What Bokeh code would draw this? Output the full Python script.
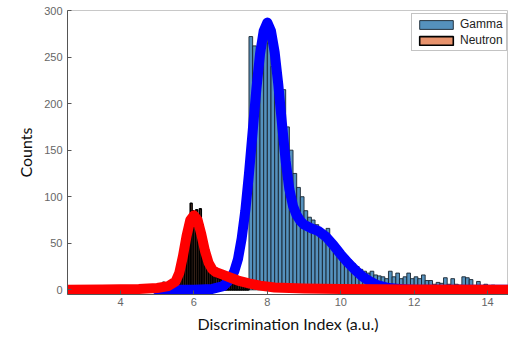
import numpy as np
from bokeh.plotting import figure
from bokeh.models import Legend, LegendItem, FixedTicker
from bokeh.embed import file_html
from bokeh.resources import INLINE

# ---- data ----
gamma_start = 7.5
gamma_width = 0.1
gamma_counts = [272, 262, 240, 258, 270, 265, 240, 225, 218, 215,
                175, 150, 125, 110, 100, 85, 78, 75, 70, 62,
                60, 66, 55, 50, 45, 40, 35, 32, 28, 25,
                22, 20, 18, 20, 16, 15, 14, 12, 20, 14,
                18, 12, 14, 18, 12, 14, 12, 16, 10, 10,
                6, 8, 7, 13, 6, 12, 6, 5, 14, 13,
                11, 4, 9, 3, 6, 3, 5, 3, 2, 4,
                3, 2, 3, 2, 1]

neutron_start = 5.0
neutron_width = 0.05
neutron_counts = [2, 3, 5, 8, 6, 7, 4, 3,
                  5, 6, 8, 10, 15, 22, 32, 45, 60, 75,
                  93, 85, 82, 86, 80, 87, 70, 55, 42, 33,
                  26, 21, 18, 15, 13, 12, 11, 10, 12, 10,
                  11, 14, 18, 12, 10, 9, 8, 7, 6, 5,
                  5, 4]

gamma_fit_x = [5.0, 6.0, 6.5, 6.8, 7.0, 7.1, 7.2, 7.3, 7.4, 7.5, 7.6, 7.7, 7.8, 7.9,
               8.0, 8.1, 8.2, 8.3, 8.4, 8.5, 8.6, 8.7, 8.8, 8.9, 9.0, 9.2, 9.4,
               9.6, 9.8, 10.0, 10.2, 10.4, 10.6, 10.8, 11.0, 11.3, 11.6, 12.0,
               13.0, 14.0, 15.0]
gamma_fit_y = [0, 0, 1, 4, 12, 20, 33, 55, 85, 125, 170, 215, 253, 278,
               287, 278, 255, 220, 178, 138, 108, 90, 80, 74, 70, 66, 63,
               57, 48, 38, 29, 21, 14, 9, 5, 2, 1, 0,
               0, 0, 0]

neutron_fit_x = [2.5, 3.5, 4.5, 5.0, 5.3, 5.5, 5.6, 5.7, 5.8, 5.9, 6.0, 6.1, 6.2,
                 6.3, 6.4, 6.5, 6.6, 6.8, 7.0, 7.2, 7.5, 7.8, 8.2, 9.0, 10.0,
                 12.0, 15.0]
neutron_fit_y = [0, 0.5, 1, 2, 4, 9, 18, 36, 58, 75, 80, 75, 60,
                 42, 29, 22, 19, 16, 13, 10, 7, 4.5, 2.5, 1.5, 1,
                 0.5, 0]

x_ticks = [4, 6, 8, 10, 12, 14]
y_ticks = [0, 50, 100, 150, 200, 250, 300]

# ---- figure ----
p = figure(width=508, height=335, x_range=(2.556, 14.57), y_range=(-5, 300),
           output_backend="svg", toolbar_location=None,
           min_border_left=67, min_border_right=0, min_border_top=10,
           min_border_bottom=35)
p.grid.visible = False
p.background_fill_color = "white"
p.border_fill_color = "white"
p.outline_line_color = "#c8c8c8"
p.outline_line_width = 1

gx = gamma_start + gamma_width * (np.arange(len(gamma_counts)) + 0.5)
nx = neutron_start + neutron_width * (np.arange(len(neutron_counts)) + 0.5)

g = p.vbar(x=gx, top=gamma_counts, bottom=0, width=gamma_width,
           fill_color="#5591bd", line_color="#17242f", line_width=0.9)
n = p.vbar(x=nx, top=neutron_counts, bottom=0, width=neutron_width,
           fill_color="#e8936d", line_color="#000000", line_width=1.6)

p.line(gamma_fit_x, gamma_fit_y, line_color="#0000ff", line_width=10,
       line_join="round", line_cap="round")
p.line(neutron_fit_x, neutron_fit_y, line_color="#ff0000", line_width=10,
       line_join="round", line_cap="round")

legend = Legend(items=[LegendItem(label="Gamma", renderers=[g]),
                       LegendItem(label="Neutron", renderers=[n])],
                location=(344, 243))
legend.label_text_font = "Liberation Sans"
legend.label_text_font_size = "12px"
legend.label_text_color = "#222222"
legend.glyph_width = 42
legend.glyph_height = 11
legend.label_height = 12
legend.label_standoff = 3
legend.padding = 3
legend.spacing = 2
legend.margin = 0
legend.border_line_color = "#888888"
legend.border_line_width = 1
legend.background_fill_color = "white"
p.add_layout(legend, "center")

for ax in (p.xaxis[0], p.yaxis[0]):
    ax.axis_line_color = "#555555"
    ax.major_tick_line_color = "#555555"
    ax.major_tick_in = 4
    ax.major_tick_out = 0
    ax.minor_tick_line_color = None
    ax.major_label_text_font = "Liberation Sans"
    ax.major_label_text_font_size = "11px"
    ax.major_label_text_color = "#666666"
    ax.axis_label_text_font = "Lato"
    ax.axis_label_text_font_size = "16px"
    ax.axis_label_text_font_style = "normal"
    ax.axis_label_text_color = "#111111"

p.xaxis.ticker = FixedTicker(ticks=x_ticks)
p.yaxis.ticker = FixedTicker(ticks=y_ticks)
p.xaxis.axis_label = "Discrimination Index (a.u.)"
p.yaxis.axis_label = "Counts"
p.xaxis.major_label_standoff = 3
p.xaxis.axis_label_standoff = 5
p.yaxis.major_label_standoff = 5
p.yaxis.axis_label_standoff = 6

open("out.html", "w").write(file_html(p, INLINE))
